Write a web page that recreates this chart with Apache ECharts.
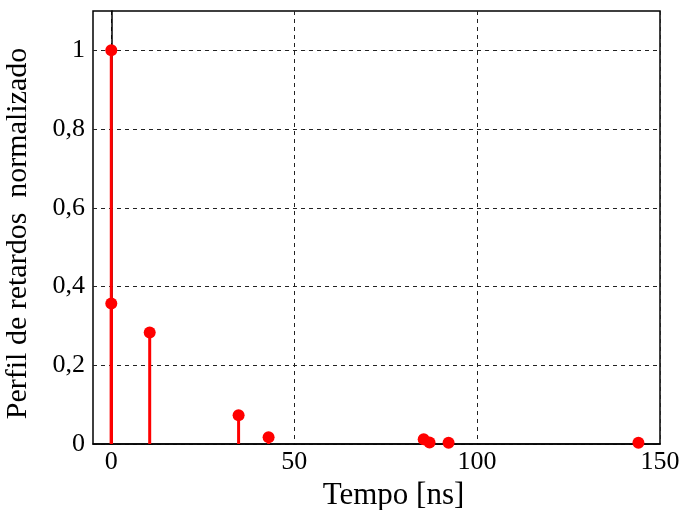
<!DOCTYPE html>
<html>
<head>
<meta charset="utf-8">
<script src="https://cdn.jsdelivr.net/npm/echarts@6/dist/echarts.min.js"></script>
<style>html,body{margin:0;padding:0;background:#fff}#c{width:684px;height:510px}</style>
</head>
<body>
<div id="c"></div>
<script>
const delays = [0, 0, 10.5, 34.8, 43.0, 85.4, 87.0, 92.2, 144.1];
const powers = [1.0, 0.357, 0.283, 0.073, 0.017, 0.012, 0.004, 0.003, 0.003];
const xTicks = [0, 50, 100, 150];
const yTicks = [0, 0.2, 0.4, 0.6, 0.8, 1.0];

const pts = delays.map((d, i) => [d, powers[i]]);
const font = 'Liberation Serif';
const chart = echarts.init(document.getElementById('c'));
chart.setOption({
  animation: false,
  backgroundColor: '#fff',
  grid: { left: 93, right: 24, top: 11, bottom: 66, show: true, borderColor: '#000', borderWidth: 1.5,
    containLabel: false, outerBoundsMode: 'none' },
  xAxis: {
    type: 'value', min: -5, max: 150,
    name: 'Tempo [ns]', nameLocation: 'middle', nameGap: 32,
    nameTextStyle: { fontFamily: font, fontSize: 31, color: '#000', padding: [0, 0, 0, 34] },
    axisLine: { show: true, onZero: false, lineStyle: { color: '#000', width: 1.5 } },
    axisTick: { show: false, customValues: xTicks },
    axisLabel: { customValues: xTicks, fontFamily: font, fontSize: 26, color: '#000', margin: 5 },
    splitLine: { show: true, lineStyle: { color: '#222', type: [4, 4], width: 1 } }
  },
  yAxis: {
    type: 'value', min: 0, max: 1.1,
    name: 'Perfil de retardos  normalizado', nameLocation: 'middle', nameGap: 60,
    nameTextStyle: { fontFamily: font, fontSize: 30, color: '#000', padding: [0, 12, 0, 0] },
    axisLine: { show: true, lineStyle: { color: '#000', width: 1.5 } },
    axisTick: { show: false, customValues: yTicks },
    axisLabel: { customValues: yTicks, fontFamily: font, fontSize: 26, color: '#000', margin: 8,
      formatter: v => String(+v.toFixed(1)).replace('.', ',') },
    splitLine: { show: true, lineStyle: { color: '#222', type: [4, 4], width: 1 } }
  },
  series: [
    {
      type: 'custom',
      data: pts,
      renderItem: (params, api) => {
        const top = api.coord([api.value(0), api.value(1)]);
        const base = api.coord([api.value(0), 0]);
        return { type: 'line', shape: { x1: base[0], y1: base[1], x2: top[0], y2: top[1] },
          style: { stroke: '#ff0000', lineWidth: 3 } };
      },
      z: 3
    },
    {
      type: 'scatter',
      data: pts,
      symbol: 'circle', symbolSize: 12,
      itemStyle: { color: '#ff0000', opacity: 1 },
      z: 4
    }
  ]
});
</script>
</body>
</html>
